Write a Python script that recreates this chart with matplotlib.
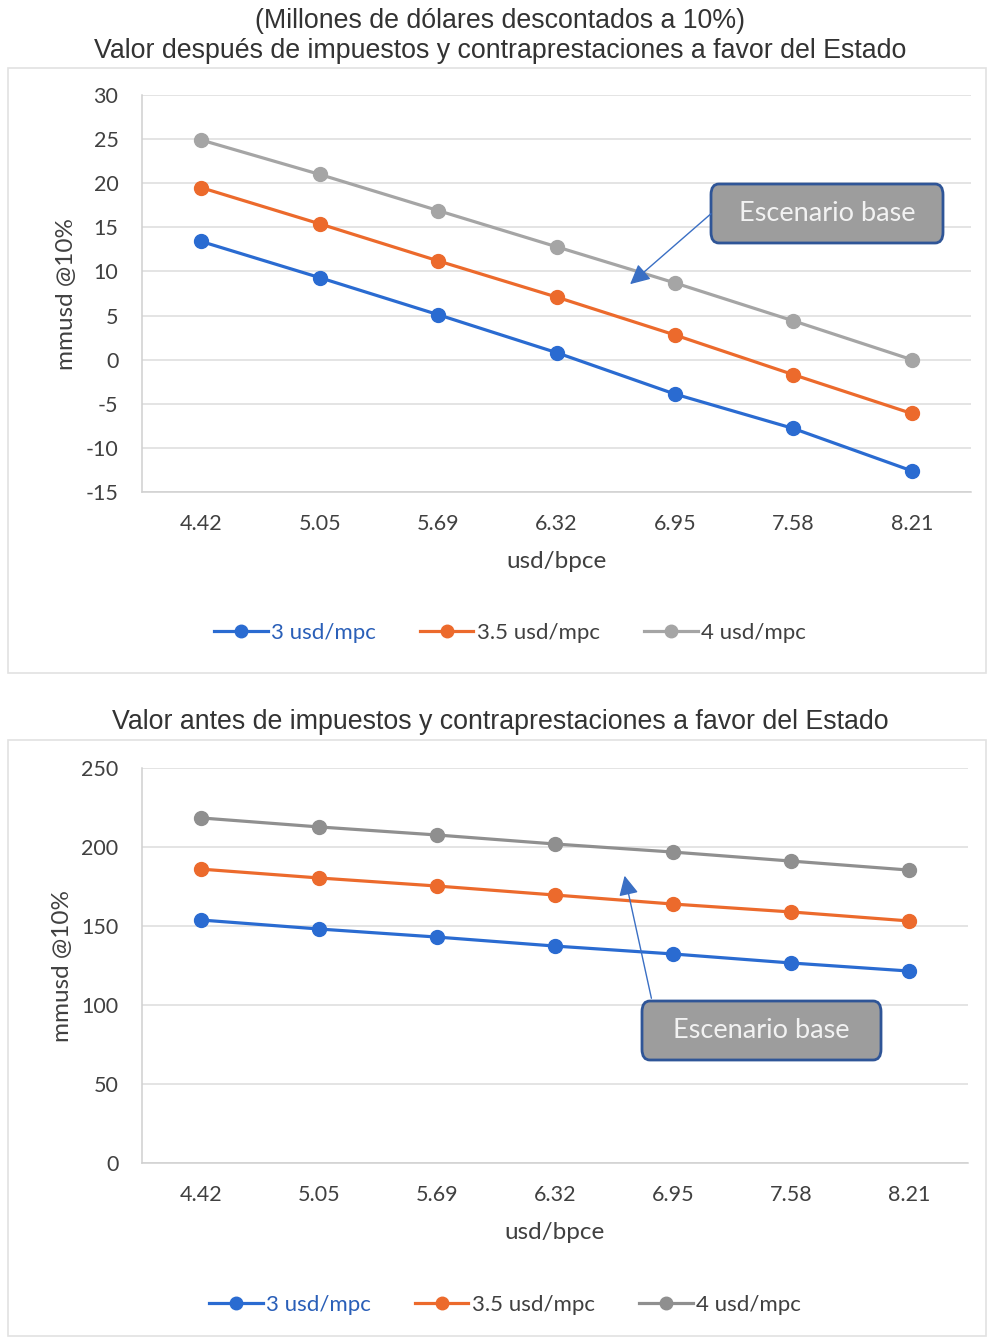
import matplotlib
matplotlib.use("Agg")
import matplotlib.pyplot as plt
from matplotlib.patches import Rectangle, FancyBboxPatch, FancyArrowPatch

plt.rcParams["axes.unicode_minus"] = False

# ---- data ----
precios_gas = ["4.42", "5.05", "5.69", "6.32", "6.95", "7.58", "8.21"]
series_labels = ["3 usd/mpc", "3.5 usd/mpc", "4 usd/mpc"]

despues_3 = [13.4, 9.3, 5.1, 0.8, -3.9, -7.8, -12.6]
despues_35 = [19.5, 15.4, 11.2, 7.1, 2.8, -1.7, -6.1]
despues_4 = [24.9, 21.0, 16.9, 12.8, 8.7, 4.4, 0.0]

antes_3 = [153.8, 148.1, 143.0, 137.3, 132.3, 126.6, 121.5]
antes_35 = [186.0, 180.4, 175.3, 169.6, 163.9, 158.9, 153.2]
antes_4 = [218.4, 212.7, 207.6, 201.9, 196.8, 191.1, 185.4]

W, H = 989, 1338
fig = plt.figure(figsize=(W / 100, H / 100), dpi=100)
fig.patch.set_facecolor("white")

TICK_FONT = "Lato"
TITLE_FONT = "Liberation Sans"
TEXT_C = "#404040"
COLORS = ["#2a6bd1", "#ec6a2c", "#a5a5a5"]


def px_axes(x0, y0, x1, y1):
    return fig.add_axes([x0 / W, 1 - y1 / H, (x1 - x0) / W, (y1 - y0) / H])


def frame(x0, y0, x1, y1):
    fig.patches.append(Rectangle((x0 / W, 1 - y1 / H), (x1 - x0) / W, (y1 - y0) / H,
                                 transform=fig.transFigure, fill=False,
                                 edgecolor="#e2e2e2", linewidth=1.2))


def draw_chart(ax, data, ylim, yticks, gray_color):
    x = list(range(len(precios_gas)))
    colors = COLORS[:2] + [gray_color]
    handles = []
    for vals, c, lab in zip(data, colors, series_labels):
        h, = ax.plot(x, vals, color=c, linewidth=2.3, marker="o", markersize=10,
                     label=lab, zorder=3)
        handles.append(h)
    ax.set_xlim(-0.5, len(x) - 0.5)
    ax.set_ylim(*ylim)
    ax.set_yticks(yticks)
    ax.set_xticks(x)
    ax.set_xticklabels(precios_gas)
    ax.grid(axis="y", color="#dcdcdc", linewidth=1.1)
    ax.set_axisbelow(True)
    for s in ["top", "right"]:
        ax.spines[s].set_visible(False)
    for s in ["left", "bottom"]:
        ax.spines[s].set_color("#d0d0d0")
        ax.spines[s].set_linewidth(1.1)
    ax.tick_params(length=0, labelsize=15.5, labelcolor=TEXT_C)
    ax.tick_params(axis="x", pad=16)
    ax.tick_params(axis="y", pad=17)
    for lbl in ax.get_xticklabels() + ax.get_yticklabels():
        lbl.set_fontfamily(TICK_FONT)
    ax.set_xlabel("usd/bpce", fontsize=17.5, family=TICK_FONT, color=TEXT_C, labelpad=12)
    ax.set_ylabel("mmusd @10%", fontsize=17.5, family=TICK_FONT, color=TEXT_C, labelpad=6)
    return handles


def legend(handles, y_px, x_px):
    leg = fig.legend(handles=handles, loc="center", bbox_to_anchor=(x_px / W, 1 - y_px / H),
                     ncol=3, frameon=False, prop={"family": TICK_FONT, "size": 16},
                     handlelength=2.4, handletextpad=0.15, columnspacing=2.0,
                     labelcolor=TEXT_C)
    for h in leg.legend_handles:
        h.set_markersize(9)
    leg.get_texts()[0].set_color("#2a5fb8")
    return leg


def callout(text, box_xy_px, box_wh_px, arrow_from_px, arrow_to_px):
    bx, by = box_xy_px
    bw, bh = box_wh_px
    fig.patches.append(FancyBboxPatch((bx / W, 1 - (by + bh) / H), bw / W, bh / H,
                                      boxstyle="round,pad=0,rounding_size=0.008",
                                      transform=fig.transFigure, facecolor="#9d9d9d",
                                      edgecolor="#2f5597", linewidth=2, zorder=5))
    fig.text((bx + bw / 2) / W, 1 - (by + bh / 2) / H, text, ha="center", va="center",
             fontsize=19.5, family=TICK_FONT, color="#f2f2f2", zorder=6)
    fig.add_artist(FancyArrowPatch(
        (arrow_from_px[0] / W, 1 - arrow_from_px[1] / H),
        (arrow_to_px[0] / W, 1 - arrow_to_px[1] / H),
        transform=fig.transFigure, arrowstyle="-|>,head_length=8,head_width=4",
        color="#3a6fc4", linewidth=1.0, mutation_scale=1.5, zorder=6))


# ---- chart 1: after taxes ----
frame(8, 68, 986, 673)
fig.text(500 / W, 1 - 21 / H, "(Millones de dólares descontados a 10%)", ha="center",
         va="center", fontsize=19.3, family=TITLE_FONT, color="#333333")
fig.text(500 / W, 1 - 51 / H, "Valor después de impuestos y contraprestaciones a favor del Estado",
         ha="center", va="center", fontsize=19.3, family=TITLE_FONT, color="#333333")
ax1 = px_axes(142, 95, 971, 492)
h1 = draw_chart(ax1, [despues_3, despues_35, despues_4], (-15, 30),
                list(range(-15, 31, 5)), COLORS[2])
legend(h1, 633, 510)
callout("Escenario base", (711, 184), (232, 59), (713, 212), (628, 286))

# ---- chart 2: before taxes ----
frame(8, 740, 986, 1336)
fig.text(500 / W, 1 - 722 / H, "Valor antes de impuestos y contraprestaciones a favor del Estado",
         ha="center", va="center", fontsize=19.3, family=TITLE_FONT, color="#333333")
ax2 = px_axes(142, 768, 968, 1163)
h2 = draw_chart(ax2, [antes_3, antes_35, antes_4], (0, 250),
                list(range(0, 251, 50)), "#8f8f8f")
legend(h2, 1305, 505)
callout("Escenario base", (642, 1001), (239, 59), (652, 1001), (624, 873))

fig.savefig("out.png", dpi=100, facecolor="white")
